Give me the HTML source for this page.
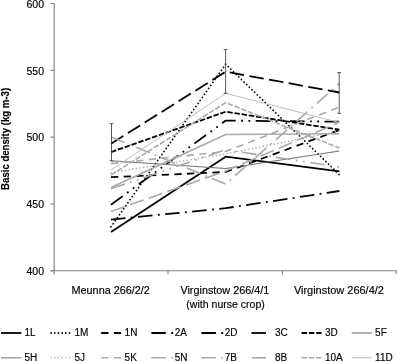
<!DOCTYPE html>
<html><head><meta charset="utf-8"><title>Basic density</title>
<style>
html,body{margin:0;padding:0;background:#fff;}
svg{display:block;}
text{font-family:"Liberation Sans",sans-serif;font-size:10px;fill:#000;stroke:#000;stroke-width:0.15px;}
.b{font-weight:bold;}
</style></head><body>
<svg width="397" height="362" viewBox="0 0 397 362">
<rect width="397" height="362" fill="#fff"/>

<g stroke="#808080" stroke-width="1.1" fill="none">
<path d="M54.2 3.5V270.8"/>
<path d="M50.4 270.8H397"/>
<path d="M50.4 3.5H54.2"/>
<path d="M50.4 70.3H54.2"/>
<path d="M50.4 137.15H54.2"/>
<path d="M50.4 204.0H54.2"/>
<path d="M50.4 270.8H54.2"/>
<path d="M54.2 270.8V274.3"/>
<path d="M168.0 270.8V274.3"/>
<path d="M282.4 270.8V274.3"/>
<path d="M396.3 270.8V274.3"/>
</g>
<text x="44.1" y="7.7" text-anchor="end" textLength="17.6" lengthAdjust="spacingAndGlyphs">600</text>
<text x="44.1" y="74.5" text-anchor="end" textLength="17.6" lengthAdjust="spacingAndGlyphs">550</text>
<text x="44.1" y="141.3" text-anchor="end" textLength="17.6" lengthAdjust="spacingAndGlyphs">500</text>
<text x="44.1" y="208.2" text-anchor="end" textLength="17.6" lengthAdjust="spacingAndGlyphs">450</text>
<text x="44.1" y="275.0" text-anchor="end" textLength="17.6" lengthAdjust="spacingAndGlyphs">400</text>
<text class="b" stroke="#000" stroke-width="0.25" transform="translate(9.3 138.9) rotate(-90)" text-anchor="middle" textLength="102" lengthAdjust="spacingAndGlyphs">Basic density (kg m-3)</text>
<text x="110.7" y="293.6" text-anchor="middle" textLength="78.4" lengthAdjust="spacingAndGlyphs">Meunna 266/2/2</text>
<text x="224.9" y="293.6" text-anchor="middle" textLength="88.9" lengthAdjust="spacingAndGlyphs">Virginstow 266/4/1</text>
<text x="225.6" y="307.8" text-anchor="middle" textLength="78.5" lengthAdjust="spacingAndGlyphs">(with nurse crop)</text>
<text x="338.9" y="293.6" text-anchor="middle" textLength="90" lengthAdjust="spacingAndGlyphs">Virginstow 266/4/2</text>
<path d="M111.0 232.0 L225.7 156.7 L339.4 171.4" stroke="#000" stroke-width="1.8" fill="none" stroke-linejoin="round"/>
<path d="M111.0 226.7 L225.7 64.2 L339.4 174.7" stroke="#000" stroke-width="1.8" fill="none" stroke-linejoin="round" stroke-dasharray="0.01 3.6704" stroke-linecap="round"/>
<path d="M111.0 177.2 L225.7 172.0 L339.4 130.0" stroke="#000" stroke-width="1.8" fill="none" stroke-linejoin="round" stroke-dasharray="7.25 5.44" stroke-linecap="butt"/>
<path d="M111.0 219.6 L225.7 208.2 L339.4 191.0" stroke="#000" stroke-width="1.8" fill="none" stroke-linejoin="round" stroke-dasharray="14.50 5.44 1.81 5.44" stroke-linecap="butt"/>
<path d="M111.0 204.7 L225.7 120.6 L339.4 121.7" stroke="#000" stroke-width="1.8" fill="none" stroke-linejoin="round" stroke-dasharray="14.50 5.44 1.81 5.44 1.81 5.44" stroke-linecap="butt"/>
<path d="M111.0 143.7 L225.7 71.7 L339.4 92.5" stroke="#000" stroke-width="1.8" fill="none" stroke-linejoin="round" stroke-dasharray="14.50 5.44" stroke-linecap="butt"/>
<path d="M111.0 152.1 L225.7 111.7 L339.4 129.7" stroke="#000" stroke-width="1.8" fill="none" stroke-linejoin="round" stroke-dasharray="5.44 1.81" stroke-linecap="butt"/>
<path d="M111.0 160.8 L225.7 168.5 L339.4 151.0" stroke="#707070" stroke-width="1.1" fill="none" stroke-linejoin="round"/>
<path d="M111.0 187.5 L225.7 134.5 L339.4 133.8" stroke="#a9a9a9" stroke-width="1.6" fill="none" stroke-linejoin="round"/>
<path d="M111.0 172.7 L225.7 154.0 L339.4 131.0" stroke="#a9a9a9" stroke-width="1.6" fill="none" stroke-linejoin="round" stroke-dasharray="0.01 3.6704" stroke-linecap="round"/>
<path d="M111.0 163.6 L225.7 151.5 L339.4 107.0" stroke="#a9a9a9" stroke-width="1.6" fill="none" stroke-linejoin="round" stroke-dasharray="7.25 5.44" stroke-linecap="butt"/>
<path d="M111.0 137.0 L225.7 184.0 L339.4 83.5" stroke="#a9a9a9" stroke-width="1.6" fill="none" stroke-linejoin="round" stroke-dasharray="14.56 5.46 1.82 5.46" stroke-linecap="butt"/>
<path d="M111.0 188.8 L225.7 149.7 L339.4 167.0" stroke="#a9a9a9" stroke-width="1.6" fill="none" stroke-linejoin="round" stroke-dasharray="14.50 5.44 1.81 5.44 1.81 5.44" stroke-linecap="butt"/>
<path d="M111.0 211.5 L225.7 171.0 L339.4 122.3" stroke="#a9a9a9" stroke-width="1.6" fill="none" stroke-linejoin="round" stroke-dasharray="14.50 5.44" stroke-linecap="butt"/>
<path d="M111.0 175.0 L225.7 102.6 L339.4 148.0" stroke="#a9a9a9" stroke-width="1.6" fill="none" stroke-linejoin="round" stroke-dasharray="5.44 1.81" stroke-linecap="butt"/>
<path d="M111.0 170.0 L225.7 93.3 L339.4 122.5" stroke="#bdbdbd" stroke-width="1.0" fill="none" stroke-linejoin="round"/>
<g stroke="#3c3c3c" stroke-width="0.85" fill="none">
<path d="M111.5 160.8V123.7 M109.6 123.7H113.4 M109.6 160.8H113.4"/>
<path d="M225.6 93.3V49.6 M223.7 49.6H227.5 M223.7 93.3H227.5"/>
<path d="M339.2 113.3V72.6 M337.3 72.6H341.09999999999997 M337.3 113.3H341.09999999999997"/>
</g>
<path d="M1.0 333.0 H21.4" stroke="#000" stroke-width="1.8" fill="none" stroke-linejoin="round"/>
<text x="24.4" y="336.3">1L</text>
<path d="M51.1 333.0 H71.5" stroke="#000" stroke-width="1.8" fill="none" stroke-linejoin="round" stroke-dasharray="0.01 3.6704" stroke-linecap="round"/>
<text x="74.5" y="336.3">1M</text>
<path d="M101.2 333.0 H121.6" stroke="#000" stroke-width="1.8" fill="none" stroke-linejoin="round" stroke-dasharray="7.25 5.44" stroke-linecap="butt"/>
<text x="124.6" y="336.3">1N</text>
<path d="M151.3 333.0 H173.1" stroke="#000" stroke-width="1.8" fill="none" stroke-linejoin="round" stroke-dasharray="14.50 5.44 1.81 5.44" stroke-linecap="butt"/>
<text x="174.7" y="336.3">2A</text>
<path d="M201.4 333.0 H223.2" stroke="#000" stroke-width="1.8" fill="none" stroke-linejoin="round" stroke-dasharray="14.50 5.44 1.81 5.44 1.81 5.44" stroke-linecap="butt"/>
<text x="224.8" y="336.3">2D</text>
<path d="M251.5 333.0 H271.0" stroke="#000" stroke-width="1.8" fill="none" stroke-linejoin="round" stroke-dasharray="14.50 5.44" stroke-linecap="butt"/>
<text x="274.9" y="336.3">3C</text>
<path d="M301.6 333.0 H322.0" stroke="#000" stroke-width="1.8" fill="none" stroke-linejoin="round" stroke-dasharray="5.44 1.81" stroke-linecap="butt"/>
<text x="325.0" y="336.3">3D</text>
<path d="M351.7 333.0 H372.1" stroke="#707070" stroke-width="1.1" fill="none" stroke-linejoin="round"/>
<text x="375.1" y="336.3">5F</text>
<path d="M1.0 357.8 H21.4" stroke="#a9a9a9" stroke-width="1.6" fill="none" stroke-linejoin="round"/>
<text x="24.4" y="361.1">5H</text>
<path d="M51.1 357.8 H71.5" stroke="#a9a9a9" stroke-width="1.6" fill="none" stroke-linejoin="round" stroke-dasharray="0.01 3.6704" stroke-linecap="round"/>
<text x="74.5" y="361.1">5J</text>
<path d="M101.2 357.8 H121.6" stroke="#a9a9a9" stroke-width="1.6" fill="none" stroke-linejoin="round" stroke-dasharray="7.25 5.44" stroke-linecap="butt"/>
<text x="124.6" y="361.1">5K</text>
<path d="M151.3 357.8 H173.1" stroke="#a9a9a9" stroke-width="1.6" fill="none" stroke-linejoin="round" stroke-dasharray="14.56 5.46 1.82 5.46" stroke-linecap="butt"/>
<text x="174.7" y="361.1">5N</text>
<path d="M201.4 357.8 H223.2" stroke="#a9a9a9" stroke-width="1.6" fill="none" stroke-linejoin="round" stroke-dasharray="14.50 5.44 1.81 5.44 1.81 5.44" stroke-linecap="butt"/>
<text x="224.8" y="361.1">7B</text>
<path d="M251.5 357.8 H271.0" stroke="#a9a9a9" stroke-width="1.6" fill="none" stroke-linejoin="round" stroke-dasharray="14.50 5.44" stroke-linecap="butt"/>
<text x="274.9" y="361.1">8B</text>
<path d="M301.6 357.8 H322.0" stroke="#a9a9a9" stroke-width="1.6" fill="none" stroke-linejoin="round" stroke-dasharray="5.44 1.81" stroke-linecap="butt"/>
<text x="325.0" y="361.1">10A</text>
<path d="M351.7 357.8 H372.1" stroke="#bdbdbd" stroke-width="1.0" fill="none" stroke-linejoin="round"/>
<text x="375.1" y="361.1">11D</text>
</svg></body></html>
